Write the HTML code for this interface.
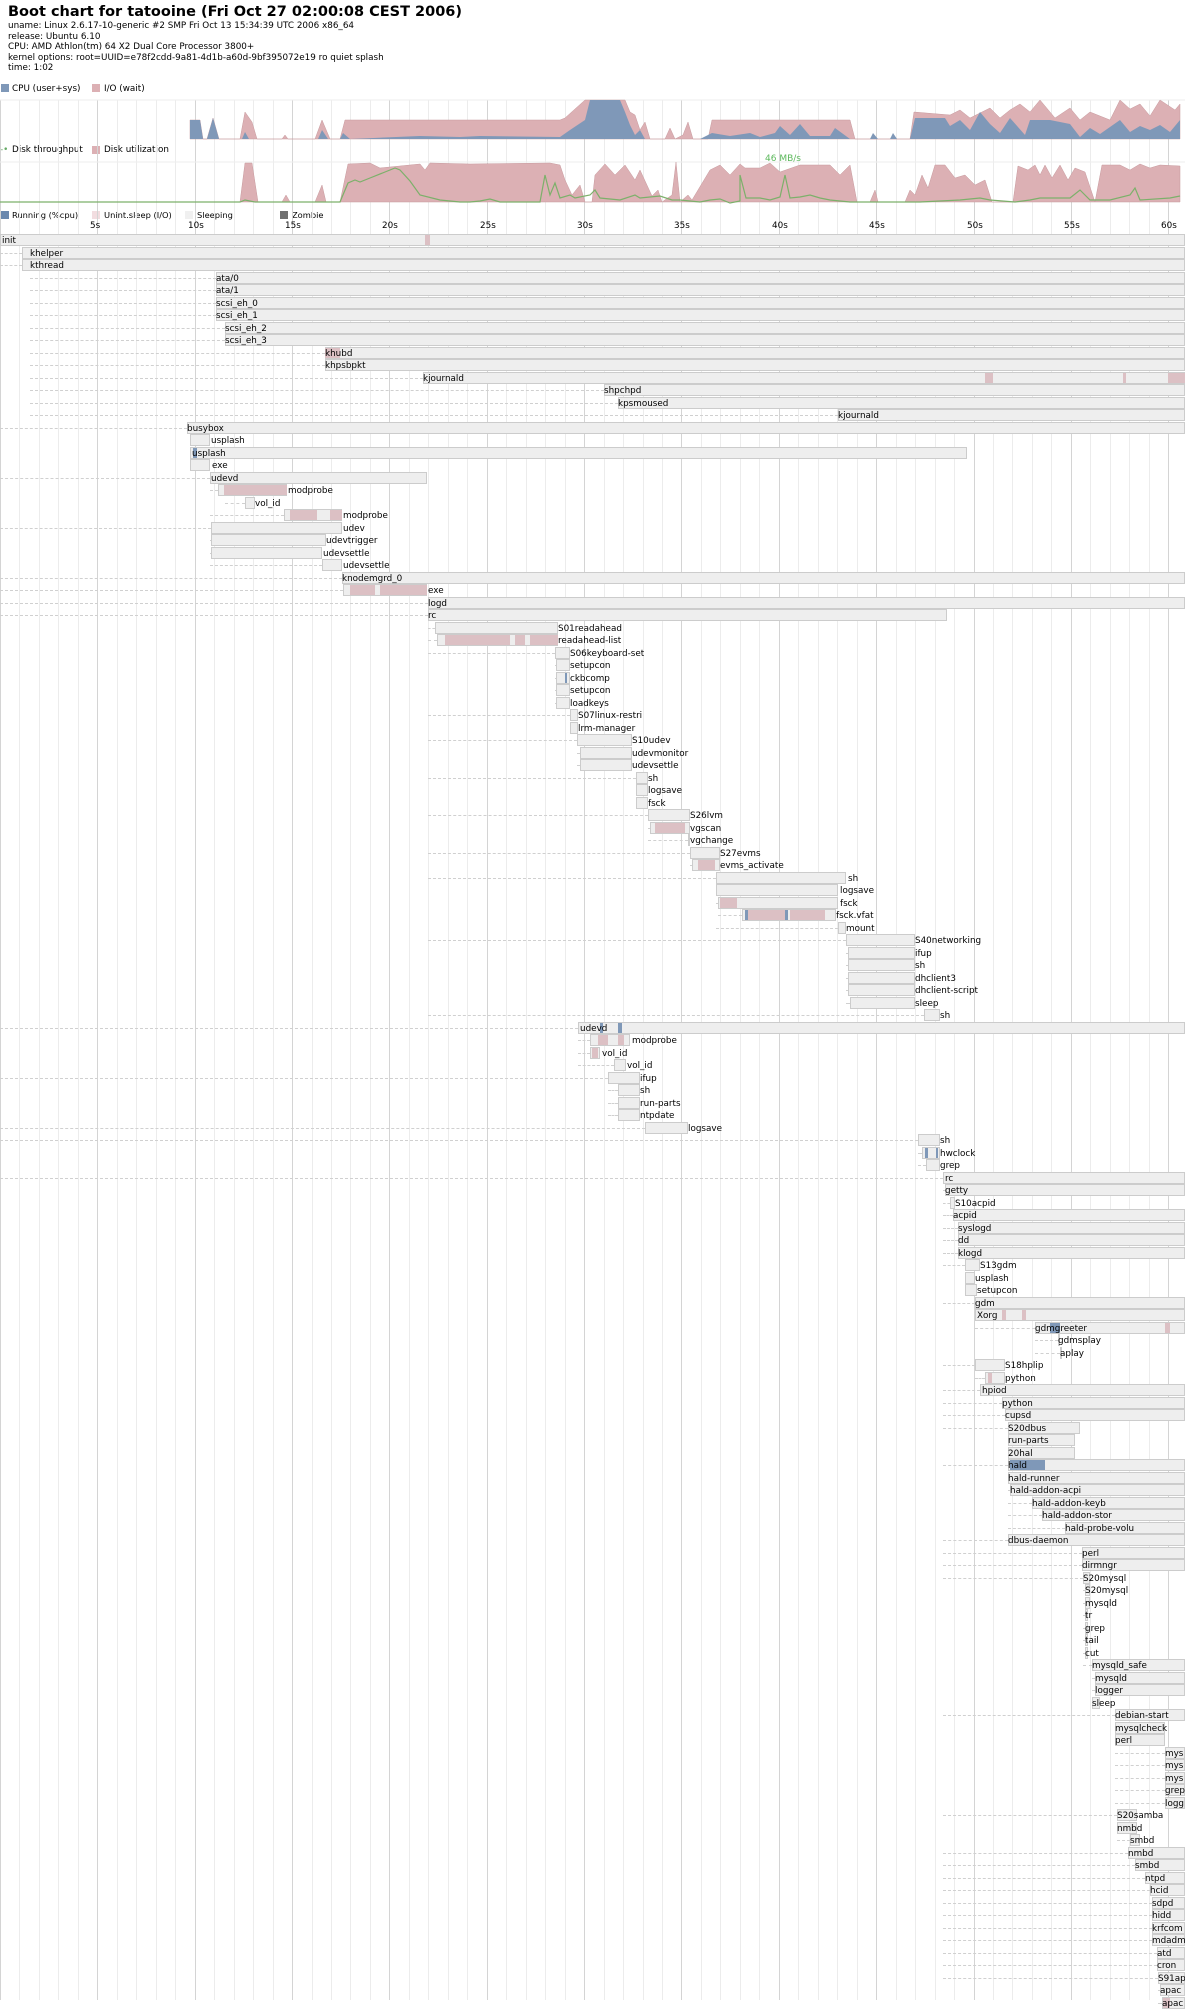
<!DOCTYPE html>
<html><head><meta charset="utf-8">
<style>
html,body{margin:0;padding:0;background:#fff;}
body{width:1185px;height:2000px;overflow:hidden;position:relative;font-family:"DejaVu Sans","Liberation Sans",sans-serif;}
.t{position:absolute;font-size:8.8px;color:#000;white-space:nowrap;line-height:10px;}
.b{position:absolute;background:#eeeeee;border:1px solid #cccccc;box-sizing:border-box;}
.p{position:absolute;background:#dcc0c4;}
.c{position:absolute;background:#7f98b8;}
.d{position:absolute;border-top:1px dashed #d0d0d0;height:0;}
.g{position:absolute;top:100px;width:1px;height:1900px;background:#ececec;}
.g5{background:#d4d4d4;}
.sq{position:absolute;width:8px;height:8px;}
</style></head><body>
<div class="t" style="left:8px;top:2px;font-size:14.5px;font-weight:bold;line-height:20px;">Boot chart for tatooine (Fri Oct 27 02:00:08 CEST 2006)</div>
<div class="t" style="left:8px;top:21px;">uname: Linux 2.6.17-10-generic #2 SMP Fri Oct 13 15:34:39 UTC 2006 x86_64</div>
<div class="t" style="left:8px;top:31.5px;">release: Ubuntu 6.10</div>
<div class="t" style="left:8px;top:42px;">CPU: AMD Athlon(tm) 64 X2 Dual Core Processor 3800+</div>
<div class="t" style="left:8px;top:52.5px;">kernel options: root=UUID=e78f2cdd-9a81-4d1b-a60d-9bf395072e19 ro quiet splash</div>
<div class="t" style="left:8px;top:63px;">time: 1:02</div>

<div class="sq" style="left:1px;top:84px;background:#7f98b8;"></div><div class="t" style="left:12px;top:84px;">CPU (user+sys)</div>
<div class="sq" style="left:92px;top:84px;background:#dcb0b4;"></div><div class="t" style="left:104px;top:84px;">I/O (wait)</div>
<div class="t" style="left:0px;top:145px;color:#6a6;">-•</div><div class="t" style="left:12px;top:145px;">Disk throughput</div>
<div class="sq" style="left:92px;top:146px;background:#dcb0b4;"></div><div class="t" style="left:104px;top:145px;">Disk utilization</div>
<div class="sq" style="left:1px;top:211px;background:#6a88ae;"></div><div class="t" style="left:12px;top:210px;font-size:8.3px;">Running (%cpu)</div>
<div class="sq" style="left:92px;top:211px;background:#f2dde0;"></div><div class="t" style="left:104px;top:210px;font-size:8.3px;">Unint.sleep (I/O)</div>
<div class="sq" style="left:185px;top:211px;background:#f0f0f0;"></div><div class="t" style="left:197px;top:210px;font-size:8.3px;">Sleeping</div>
<div class="sq" style="left:280px;top:211px;background:#707070;"></div><div class="t" style="left:292px;top:210px;font-size:8.3px;">Zombie</div>

<div id="grid"></div>
<svg style="position:absolute;left:0;top:0" width="1185" height="210">
<line x1="0" y1="100" x2="1185" y2="100" stroke="#eee"/>
<polygon fill="#dcb0b4" stroke="#c79a9e" stroke-width="0.5" points="190,139 190,120 200,120 203,139 207,139 213,118 219,139 240,139 245,112 252,122 257,139 282,139 285,135 288,139 315,139 322,120 330,139 340,139 345,120 560,120 565,118 585,100 625,100 630,112 635,115 640,130 645,122 650,139 665,139 670,128 675,139 683,135 688,122 693,139 708,139 712,120 850,120 855,139 910,139 914,112 950,115 960,110 970,118 980,113 990,108 1000,118 1010,110 1020,104 1030,112 1040,100 1055,118 1070,108 1080,120 1090,112 1110,120 1120,100 1130,109 1140,104 1150,116 1160,100 1175,110 1180,104 1180,139"/>
<polygon fill="#7f98b8" points="190,139 190,120 200,120 203,139 207,139 213,118 219,139 242,139 245,132 249,139 318,139 322,130 328,139 340,139 343,133 350,139 420,136 460,137 480,136 560,137 570,130 585,120 590,100 620,100 625,112 630,125 635,135 640,130 645,139 700,139 712,133 730,136 750,133 760,137 775,133 780,126 790,135 800,124 810,136 830,136 835,128 850,139 870,139 873,133 878,139 890,139 893,133 897,139 910,139 915,118 945,118 950,126 960,120 970,130 980,112 990,124 1000,133 1010,118 1025,135 1030,120 1050,120 1070,124 1080,137 1090,128 1100,134 1120,120 1130,132 1140,126 1150,130 1160,125 1170,132 1180,120 1180,139"/>
<line x1="0" y1="162" x2="1185" y2="162" stroke="#eee"/>
<polygon fill="#dcb0b4" stroke="#c79a9e" stroke-width="0.5" points="240,202 245,163 252,163 258,202 282,202 286,195 290,202 315,202 322,185 326,202 340,202 348,164 370,163 380,168 420,164 425,170 430,163 470,164 550,163 560,165 565,180 572,195 580,185 585,202 592,202 595,175 605,164 615,175 625,165 635,180 640,170 652,196 658,190 662,202 672,195 676,162 680,202 688,195 692,200 710,170 720,165 730,175 740,164 745,168 760,168 770,163 780,172 800,165 830,165 840,175 850,165 857,202 870,202 875,190 878,202 905,202 910,190 915,195 922,175 928,188 935,165 945,165 955,178 965,175 975,185 985,180 992,202 1013,202 1018,166 1028,170 1035,165 1040,175 1045,165 1052,178 1060,165 1068,180 1075,168 1085,172 1095,202 1102,165 1120,165 1130,170 1140,164 1150,168 1160,165 1180,166 1180,202"/>
<polyline fill="none" stroke="#7cb06a" stroke-width="1.2" points="0,202 240,202 245,200 255,202 340,202 348,183 355,180 360,182 370,178 385,172 395,168 400,170 410,181 420,195 440,200 460,202 470,202 480,201 490,199 500,202 540,202 545,175 550,195 555,183 560,198 570,195 575,198 590,195 595,190 600,198 620,200 635,195 640,198 660,196 672,200 680,200 700,202 710,200 720,199 730,203 740,201 740,175 746,198 760,198 770,200 780,197 785,175 790,198 800,197 810,195 820,198 830,200 850,202 920,202 940,201 960,200 980,198 990,200 1015,202 1030,200 1040,198 1070,198 1080,190 1090,200 1110,200 1130,195 1135,188 1140,200 1170,198 1180,196"/>
<text x="765" y="161" font-size="9" fill="#5cb85c" font-family="DejaVu Sans, Liberation Sans, sans-serif">46 MB/s</text>
</svg>
<div id="rows"></div>
<script>
var g=document.getElementById('grid'),h='';
for(var s=0;s<=61;s++){var x=Math.round(s*19.47);h+='<div class="g'+(s%5==0?' g5':'')+'" style="left:'+x+'px"></div>';
 if(s%5==0&&s>0)h+='<div class="t" style="left:'+(x-7)+'px;top:221px">'+s+'s</div>';}
g.innerHTML=h;
var R=[
["init",0,1185,2,[[425,430]],0],["khelper",22,1185,30,0,0],["kthread",22,1185,30,0,0],
["ata/0",216,1185,216,0,30],["ata/1",216,1185,216,0,30],["scsi_eh_0",216,1185,216,0,30],["scsi_eh_1",216,1185,216,0,30],
["scsi_eh_2",225,1185,225,0,30],["scsi_eh_3",225,1185,225,0,30],["khubd",325,1185,325,[[325,340]],30],["khpsbpkt",325,1185,325,0,30],
["kjournald",423,1185,423,[[985,993],[1123,1126],[1168,1185]],30],["shpchpd",604,1185,604,0,30],["kpsmoused",618,1185,618,0,30],["kjournald",838,1185,838,0,30],
["busybox",187,1185,187,0,0],["usplash",190,210,211,0,190],["usplash",190,967,192,[[193,197,1]],190],["exe",190,210,212,0,190],
["udevd",210,427,211,0,0],["modprobe",218,287,288,[[224,287]],210],["vol_id",245,255,255,0,225],["modprobe",284,342,343,[[290,317],[330,342]],210],
["udev",211,342,343,0,0],["udevtrigger",211,326,326,0,210],["udevsettle",211,322,323,0,210],["udevsettle",322,342,343,0,210],
["knodemgrd_0",342,1185,342,0,0],["exe",343,427,428,[[350,375],[380,427]],0],["logd",428,1185,428,0,0],["rc",428,947,428,0,0],
["S01readahead",435,558,558,0,428],["readahead-list",437,558,558,[[445,510],[515,525],[530,558]],428],
["S06keyboard-set",555,570,570,0,428],["setupcon",556,570,570,0,555],["ckbcomp",556,570,570,[[565,567,1]],555],["setupcon",556,570,570,0,555],["loadkeys",556,570,570,0,555],
["S07linux-restri",570,578,578,0,428],["lrm-manager",570,578,578,0,570],["S10udev",577,632,632,0,428],["udevmonitor",580,632,632,0,577],["udevsettle",580,632,632,0,577],
["sh",636,648,648,0,428],["logsave",636,648,648,0,636],["fsck",636,648,648,0,636],["S26lvm",648,690,690,0,428],["vgscan",650,690,690,[[655,685]],648],["vgchange",688,690,690,0,648],
["S27evms",690,720,720,0,428],["evms_activate",692,720,720,[[698,715]],690],["sh",716,846,848,0,428],["logsave",716,838,840,0,716],["fsck",718,838,840,[[720,737]],716],
["fsck.vfat",742,836,836,[[745,785],[790,825],[745,748,1],[785,788,1]],718],["mount",838,846,846,0,716],
["S40networking",846,915,915,0,428],["ifup",848,915,915,0,846],["sh",848,915,915,0,846],["dhclient3",848,915,915,0,846],["dhclient-script",848,915,915,0,846],["sleep",850,915,915,0,846],["sh",924,940,940,0,428],
["udevd",578,1185,580,[[600,603,1],[618,622,1]],0],["modprobe",590,630,632,[[598,608],[618,624]],578],["vol_id",590,600,602,[[592,598]],578],["vol_id",614,626,627,0,578],
["ifup",608,640,640,0,0],["sh",618,640,640,0,608],["run-parts",618,640,640,0,608],["ntpdate",618,640,640,0,608],["logsave",645,688,688,0,0],
["sh",918,940,940,0,0],["hwclock",922,940,940,[[925,928,1],[936,938,1]],918],["grep",926,940,940,0,918],
["rc",943,1185,945,0,0],["getty",945,1185,945,0,943],["S10acpid",950,955,955,0,943],["acpid",953,1185,953,0,943],["syslogd",958,1185,958,0,943],["dd",958,1185,958,0,943],["klogd",958,1185,958,0,943],
["S13gdm",965,980,980,0,943],["usplash",965,975,975,0,965],["setupcon",965,977,977,0,965],["gdm",975,1185,975,0,943],["Xorg",975,1185,977,[[1002,1006],[1022,1026]],975],
["gdmgreeter",1035,1185,1035,[[1050,1060,1],[1165,1170]],975],["gdmsplay",1058,1060,1058,0,1035],["aplay",1060,1062,1060,0,1035],
["S18hplip",975,1005,1005,0,943],["python",985,1005,1005,[[988,992]],975],["hpiod",980,1185,982,0,943],["python",1002,1185,1002,0,943],["cupsd",1005,1185,1005,0,943],
["S20dbus",1008,1080,1008,0,943],["run-parts",1008,1075,1008,0,1008],["20hal",1008,1075,1008,0,1008],["hald",1008,1185,1008,[[1010,1045,1]],943],["hald-runner",1008,1185,1008,0,1008],
["hald-addon-acpi",1010,1185,1010,0,1008],["hald-addon-keyb",1032,1185,1032,0,1008],["hald-addon-stor",1042,1185,1042,0,1008],["hald-probe-volu",1065,1185,1065,0,1008],
["dbus-daemon",1008,1185,1008,0,943],["perl",1082,1185,1082,0,943],["dirmngr",1082,1185,1082,0,943],["S20mysql",1083,1090,1083,0,943],["S20mysql",1085,1090,1085,0,1083],
["mysqld",1085,1090,1085,0,1083],["tr",1085,1088,1085,0,1083],["grep",1085,1088,1085,0,1083],["tail",1085,1088,1085,0,1083],["cut",1085,1088,1085,0,1083],
["mysqld_safe",1092,1185,1092,0,1083],["mysqld",1095,1185,1095,0,1092],["logger",1095,1185,1095,0,1092],["sleep",1092,1100,1092,0,1092],
["debian-start",1115,1185,1115,0,943],["mysqlcheck",1115,1165,1115,0,1115],["perl",1115,1165,1115,0,1115],["mys",1165,1185,1165,0,1115],["mys",1165,1185,1165,0,1115],["mys",1165,1185,1165,0,1115],["grep",1165,1185,1165,0,1115],["logg",1165,1185,1165,0,1115],
["S20samba",1117,1137,1117,0,943],["nmbd",1117,1137,1117,0,1117],["smbd",1130,1140,1130,0,1117],["nmbd",1128,1185,1128,0,943],["smbd",1135,1185,1135,0,943],
["ntpd",1145,1185,1145,0,943],["hcid",1150,1185,1150,0,943],["sdpd",1152,1185,1152,0,943],["hidd",1152,1185,1152,0,943],["krfcom",1152,1185,1152,0,943],["mdadm",1152,1185,1152,0,943],
["atd",1157,1185,1157,0,943],["cron",1157,1185,1157,0,943],["S91ap",1158,1185,1158,0,943],["apac",1160,1185,1160,0,1158],["apac",1162,1185,1162,[[1163,1170]],1158]
];
var o='';
for(var i=0;i<R.length;i++){var r=R[i],y=234+i*12.5;
 if(r[1]>0&&r[5]<r[1])o+='<div class="d" style="left:'+r[5]+'px;top:'+(y+6)+'px;width:'+(r[1]-r[5])+'px"></div>';
 o+='<div class="b" style="left:'+r[1]+'px;top:'+y+'px;width:'+(r[2]-r[1])+'px;height:12px"></div>';
 if(r[4])for(var k=0;k<r[4].length;k++){var s=r[4][k];o+='<div class="'+(s[2]?'c':'p')+'" style="left:'+s[0]+'px;top:'+(y+1)+'px;width:'+(s[1]-s[0])+'px;height:10px"></div>';}
 o+='<div class="t" style="left:'+r[3]+'px;top:'+(y+2)+'px">'+r[0]+'</div>';}
document.getElementById('rows').innerHTML=o;
</script>
</body></html>
